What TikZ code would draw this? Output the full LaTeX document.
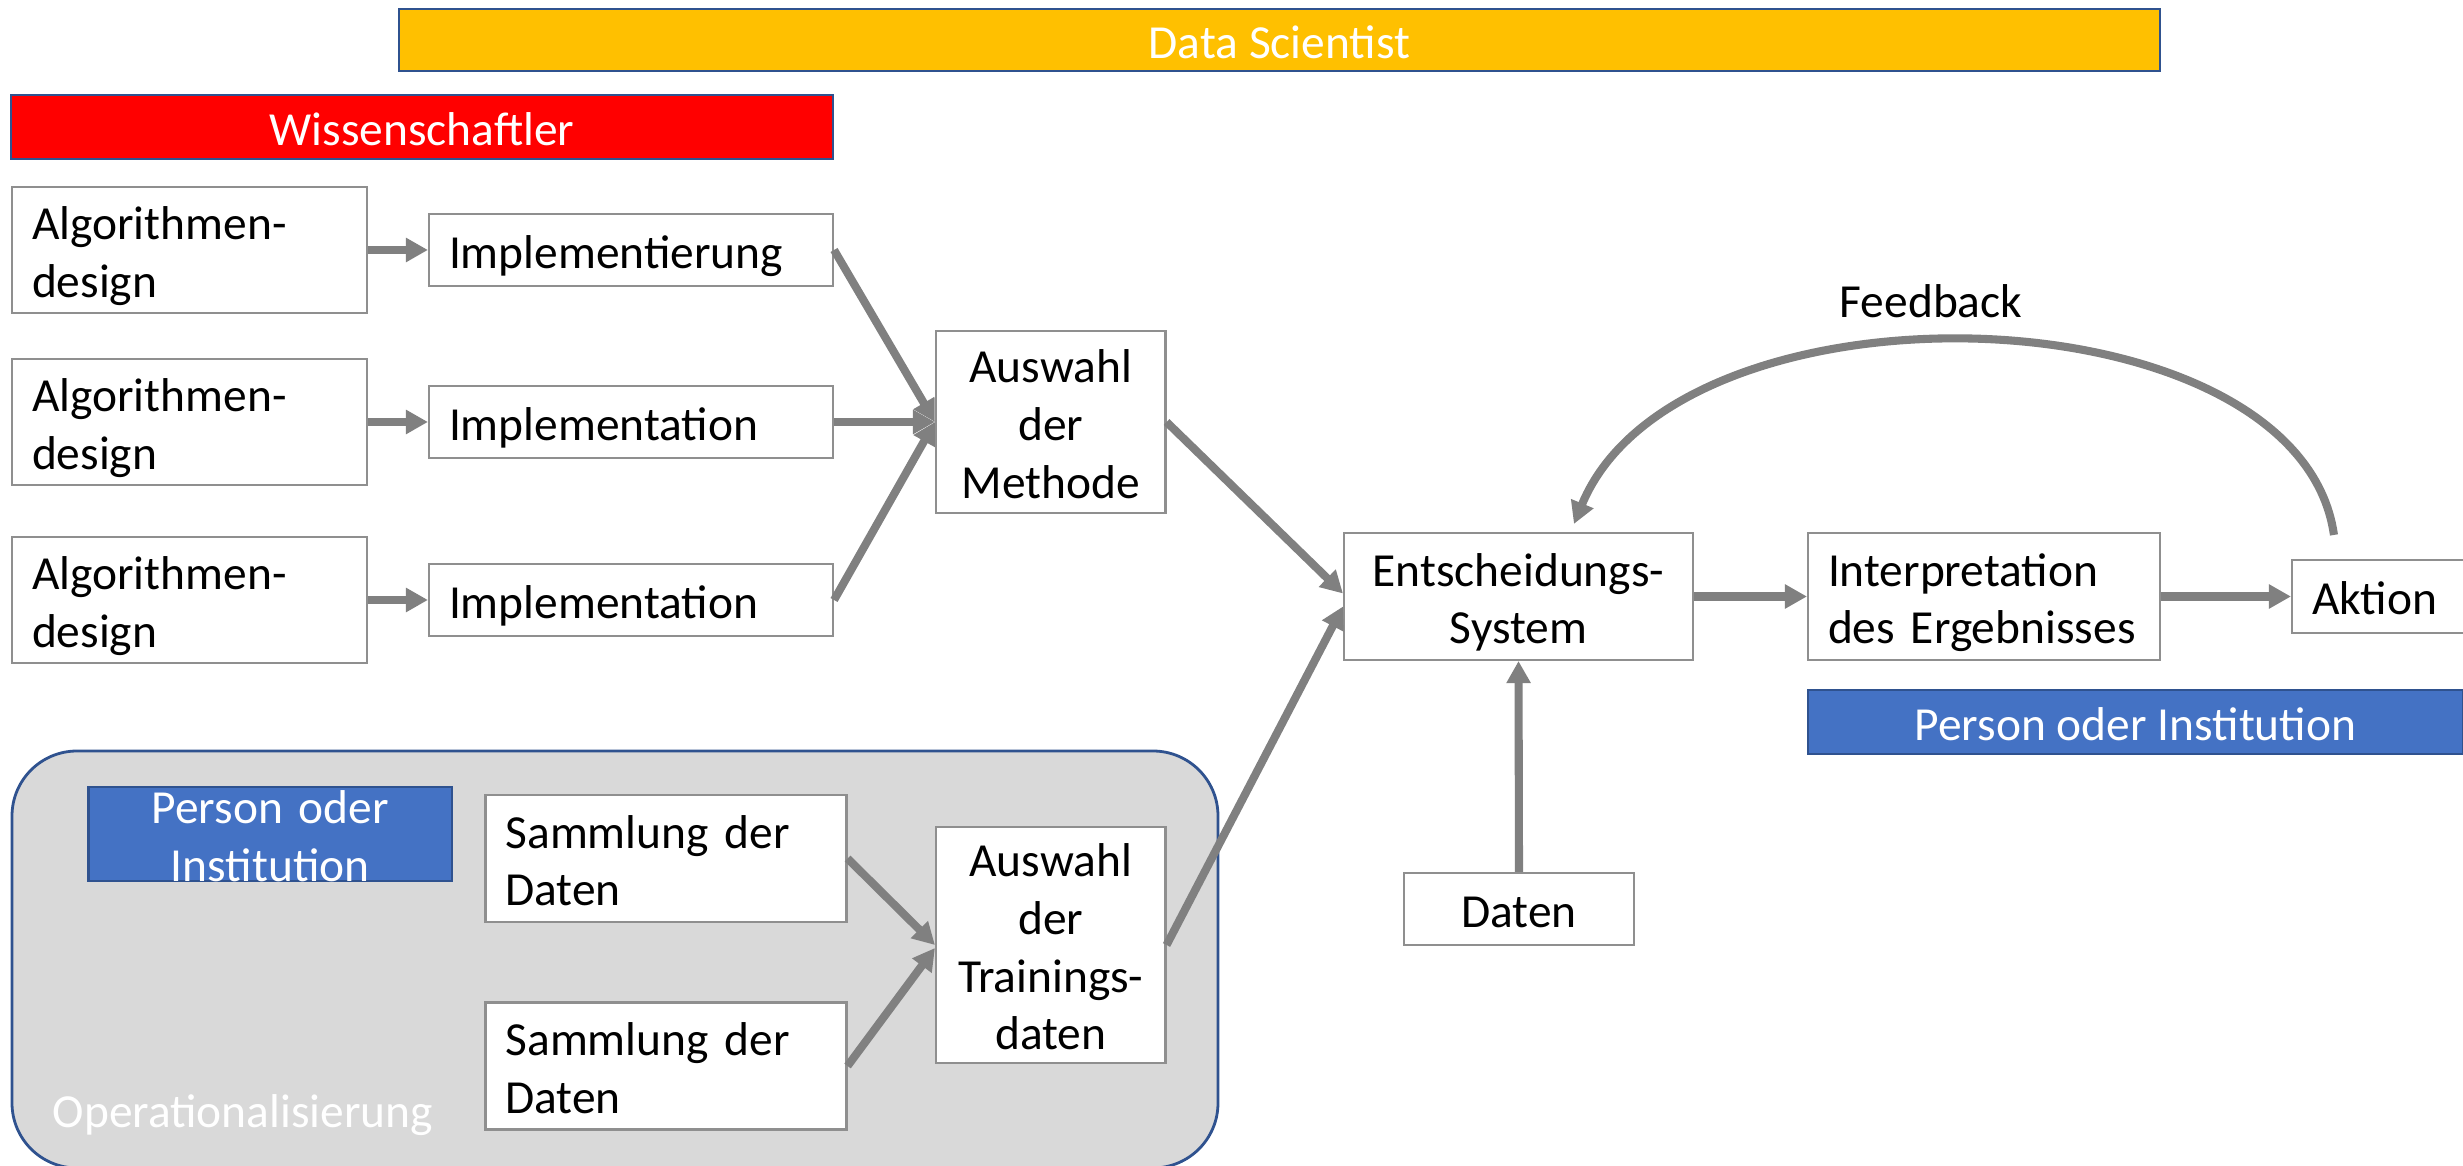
\documentclass[tikz,border=0pt]{standalone}
\usepackage{fontspec}
\setmainfont{Carlito}
\usetikzlibrary{arrows.meta}
\definecolor{pfeilgrau}{HTML}{808080}
\definecolor{rahmengrau}{HTML}{8F8F8F}
\definecolor{balkenblau}{HTML}{2F528F}
\definecolor{gold}{HTML}{FFC000}
\definecolor{blau}{HTML}{4472C4}
\definecolor{hellgrau}{HTML}{D9D9D9}
\newcommand{\oben}{\rule{0pt}{13.5pt}}
\newcommand{\unten}{\rule[-3pt]{0pt}{3pt}}
\tikzset{
  zeile/.style={execute at begin node=\oben, execute at end node=\unten},
  block/.style={zeile, draw=rahmengrau, line width=0.6pt, fill=white, inner xsep=2mm, inner ysep=0pt},
  links/.style={block, align=left, text width=#1},
  mitte/.style={block, align=center, text width=#1},
  bar/.style={zeile, draw=balkenblau, line width=0.8pt, text=white, inner sep=0pt},
  opfeld/.style={draw=balkenblau, line width=0.8pt, fill=hellgrau, rounded corners=6.5mm},
  arr/.style={draw=pfeilgrau, line width=2.3pt, -{Triangle[length=2.2mm,width=2.3mm]}},
}

\begin{document}
\begin{tikzpicture}[x=0.1mm, y=-0.1mm, font=\fontsize{13.5}{16.4}\selectfont]
\useasboundingbox (0,0) rectangle (2463,1166);
% Rollen
\node[bar, fill=gold, minimum width=176.1mm, minimum height=6.2mm] (ds) at (1279.5,40) {Data Scientist};
\node[bar, fill=red, minimum width=82.2mm, minimum height=6.4mm] (wiss) at (422,127) {Wissenschaftler};
% Methoden
\foreach \y/\txt [count=\i] in {250/Implementierung, 422/Implementation, 600/Implementation} {
  \node[links=31.5mm, minimum height=12.6mm] (algo\i) at (189.5,\y) {Algorithmen-\\design};
  \node[links=36.4mm, minimum height=7.2mm] (impl\i) at (631,\y) {\txt};
  \draw[arr] (algo\i) -- (impl\i);
}
\node[mitte=18.95mm, minimum height=18.15mm] (methode) at (1050.75,422) {Auswahl\\der\\Methode};
\foreach \i in {1,2,3} \draw[arr] (impl\i.east) -- (methode.west);
% Daten
\node[opfeld, minimum width=120.6mm, minimum height=41.7mm] (op) at (615,959.5) {};
\node[anchor=base west, text=white, inner sep=0pt] (optext) at (52,1127) {Operationalisierung};
\node[bar, fill=blau, minimum width=36.35mm, minimum height=9.4mm] (persop) at (270.25,834) {};
\node[zeile, text=white, align=center, text width=36.35mm, inner sep=0pt] (persoptext) at (persop) {Person oder\\Institution};
\node[links=32.1mm, minimum height=12.7mm] (samm1) at (666,858.5) {Sammlung der\\Daten};
\node[links=32.1mm, minimum height=12.7mm] (samm2) at (666,1066) {Sammlung der\\Daten};
\node[mitte=18.95mm, minimum height=23.57mm] (train) at (1050.75,945) {Auswahl\\der\\Trainings-\\daten};
\draw[arr] (samm1.east) -- (train.west);
\draw[arr] (samm2.east) -- ([yshift=-0.3mm]train.west);
% Entscheidung
\node[mitte=30.9mm, minimum height=12.7mm] (ent) at (1518.5,596.5) {Entscheidungs-\\System};
\node[links=31.2mm, minimum height=12.7mm] (interp) at (1984,596.5) {Interpretation\\des Ergebnisses};
\node[links=19mm, minimum height=7.3mm] (aktion) at (2407,596.5) {Aktion};
\node[bar, fill=blau, minimum width=65.5mm, minimum height=6.4mm] (pers) at (2135.5,722) {Person oder Institution};
\node[mitte=19mm, minimum height=7.2mm] (daten) at (1519,909) {Daten};
\draw[arr] (methode.east) -- ([yshift=0.3mm]ent.west);
\draw[arr] (train.east) -- ([yshift=-1mm]ent.west);
\draw[arr] (daten.north) -- (ent.south);
\draw[arr] (ent.east) -- (interp.west);
\draw[arr] (interp.east) -- (aktion.west);
% Feedback
\node (feedback) at (1931,301) {Feedback};
\draw[arr] ([xshift=4.3mm,yshift=2.4mm]aktion.north west) .. controls +(-35,-247) and +(105,-255) .. ([xshift=23.1mm,yshift=0.8mm]ent.north west);
\end{tikzpicture}
\end{document}
